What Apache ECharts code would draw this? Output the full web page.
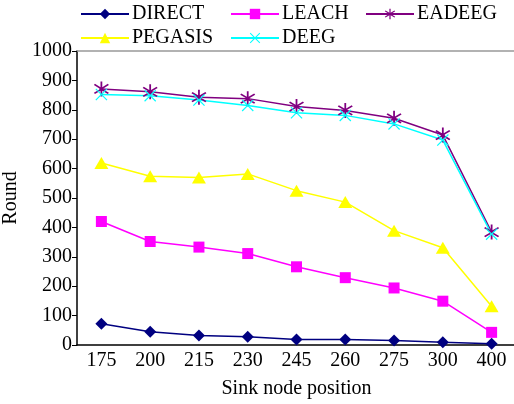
<!DOCTYPE html>
<html><head><meta charset="utf-8">
<script src="https://cdn.jsdelivr.net/npm/echarts@6/dist/echarts.min.js"></script>
<style>html,body{margin:0;padding:0;background:#fff}#c{width:514px;height:404px}</style>
</head><body><div id="c"></div>
<script>
const categories = ['175','200','215','230','245','260','275','300','400'];
const direct  = [72, 45, 32, 28, 19, 19, 15, 9, 4];
const leach   = [420, 352, 333, 311, 266, 229, 194, 149, 43];
const pegasis = [619, 574, 570, 582, 525, 486, 389, 331, 132];
const eadeeg  = [871, 861, 843, 838, 811, 798, 771, 714, 384];
const deeg    = [852, 848, 833, 815, 790, 781, 752, 697, 377];
const yTicks = [0,100,200,300,400,500,600,700,800,900,1000];

const FONT = 'Liberation Serif';
const star = 'path://M9,0 L11,0 L11,7.6 L17.2,3.2 L18.4,4.9 L12.2,9.3 L12.2,10.7 L18.4,15.1 L17.2,16.8 L11,12.4 L11,20 L9,20 L9,12.4 L2.8,16.8 L1.6,15.1 L7.8,10.7 L7.8,9.3 L1.6,4.9 L2.8,3.2 L9,7.6 Z';
const cross = 'path://M1.4,0 L10,8.6 L18.6,0 L20,1.4 L11.4,10 L20,18.6 L18.6,20 L10,11.4 L1.4,20 L0,18.6 L8.6,10 L0,1.4 Z';

const seriesDefs = [
  {name:'DIRECT', data:direct, color:'#000080', symbol:'diamond', size:[12,12]},
  {name:'LEACH', data:leach, color:'#FF00FF', symbol:'rect', size:11},
  {name:'EADEEG', data:eadeeg, color:'#800080', symbol:star, size:15},
  {name:'PEGASIS', data:pegasis, color:'#FFFF00', symbol:'triangle', size:[14,12]},
  {name:'DEEG', data:deeg, color:'#00FFFF', symbol:cross, size:12}
];
const legendPos = {
  'DIRECT':{left:80, top:4}, 'LEACH':{left:230, top:4}, 'EADEEG':{left:365, top:4},
  'PEGASIS':{left:80, top:28}, 'DEEG':{left:230, top:28}
};
const chart = echarts.init(document.getElementById('c'));
chart.setOption({
  animation:false,
  backgroundColor:'#fff',
  textStyle:{fontFamily:FONT},
  legend: seriesDefs.map(s => ({
    data:[s.name], left:legendPos[s.name].left, top:legendPos[s.name].top,
    itemWidth:48, itemHeight:13, itemGap:0,
    textStyle:{fontFamily:FONT, fontSize:20, color:'#000', padding:[0,0,0,-2]},
    padding:0
  })),
  grid:{left:77, top:51, right:-2, bottom:59, outerBoundsMode:'none', containLabel:false},
  xAxis:[{
    type:'category', data:categories, boundaryGap:true,
    name:'Sink node position', nameLocation:'middle', nameGap:30,
    nameTextStyle:{fontFamily:FONT, fontSize:20, color:'#000', padding:[4,0,0,0]},
    axisLine:{lineStyle:{color:'#000', width:1.5}},
    axisTick:{inside:true, length:5, lineStyle:{color:'#000'}},
    axisLabel:{fontFamily:FONT, fontSize:20, color:'#000', margin:6}
  },{
    type:'category', data:categories, position:'top',
    axisLine:{show:true, lineStyle:{color:'#999', width:1.5}},
    axisTick:{show:false}, axisLabel:{show:false}
  }],
  yAxis:{
    type:'value', min:0, max:1000, interval:100,
    name:'Round', nameLocation:'middle', nameGap:52, nameRotate:90,
    nameTextStyle:{fontFamily:FONT, fontSize:20, color:'#000'},
    axisLine:{show:true, lineStyle:{color:'#000', width:1.5}},
    axisTick:{show:true, length:5, lineStyle:{color:'#000'}},
    axisLabel:{fontFamily:FONT, fontSize:20, color:'#000', margin:5,
      formatter:v => yTicks.includes(v) ? String(v) : ''},
    splitLine:{show:false}
  },
  series: seriesDefs.map(s => ({
    name:s.name, type:'line', data:s.data,
    symbol:s.symbol, symbolSize:s.size,
    itemStyle:{color:s.color},
    lineStyle:{color:s.color, width:1.5},
    showAllSymbol:true
  }))
});
</script></body></html>
